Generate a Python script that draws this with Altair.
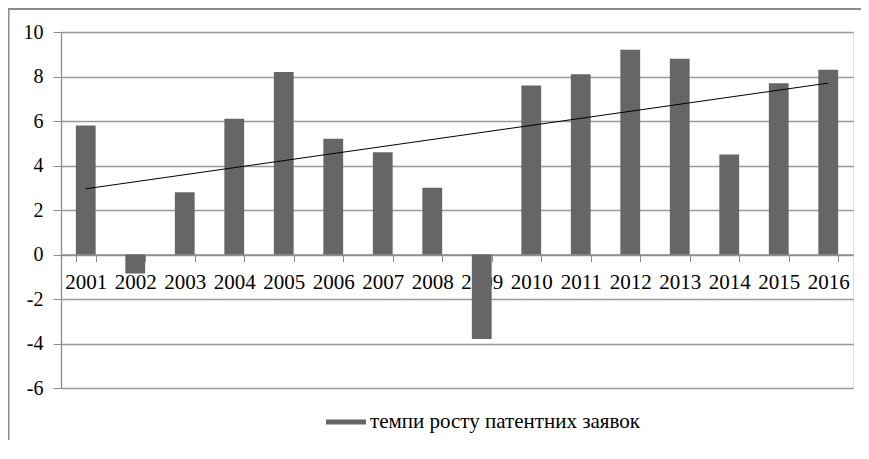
import altair as alt
import pandas as pd

years = [2001, 2002, 2003, 2004, 2005, 2006, 2007, 2008,
         2009, 2010, 2011, 2012, 2013, 2014, 2015, 2016]
values = [5.8, -0.85, 2.8, 6.1, 8.2, 5.2, 4.6, 3.0,
          -3.8, 7.6, 8.1, 9.2, 8.8, 4.5, 7.7, 8.3]
series_name = "темпи росту патентних заявок"
y_ticks = [-6, -4, -2, 0, 2, 4, 6, 8, 10]

df = pd.DataFrame({"year": years, "value": values, "series": [series_name] * len(years)})

W, H = 792, 356
FONT = "Liberation Serif"
y_scale = alt.Scale(domain=[-6, 10], nice=False, zero=False)
x_scale = alt.Scale(paddingInner=0.6, paddingOuter=0.3)
zero_px = H * 10 / 16.0

base = alt.Chart(df)

bars = base.mark_bar(color="#666666").encode(
    x=alt.X("year:O", scale=x_scale, title=None,
            axis=alt.Axis(labelAngle=0, offset=-(H - zero_px), tickBand="extent",
                          domainColor="#8c8c8c", tickColor="#8c8c8c", tickSize=7,
                          labelPadding=10, labelFont=FONT, labelFontSize=21,
                          labelColor="#000000", grid=False, domainWidth=1.3)),
    y=alt.Y("value:Q", scale=y_scale, title=None,
            axis=alt.Axis(values=y_ticks, domainColor="#8c8c8c", tickColor="#8c8c8c",
                          tickSize=8, labelPadding=10, labelFont=FONT, labelFontSize=20,
                          labelExpr="datum.value < 0 ? '-' + abs(datum.value) : '' + datum.value",
                          labelColor="#000000", gridColor="#999999", gridWidth=1.3,
                          domainWidth=1.3)),
    color=alt.Color("series:N", scale=alt.Scale(range=["#666666"]), title=None,
                    legend=alt.Legend(orient="none", legendX=265, legendY=370,
                                      symbolType="M-1,-0.125H1V0.125H-1Z",
                                      symbolSize=1600, symbolStrokeWidth=0,
                                      symbolOpacity=1, labelFont=FONT, labelFontSize=21,
                                      labelLimit=500,
                                      labelColor="#000000", padding=0, labelOffset=4)),
)

trend = base.transform_regression("year", "value", method="linear").mark_line(
    color="#000000", strokeWidth=1
).encode(
    x=alt.X("year:O", scale=x_scale),
    y=alt.Y("value:Q", scale=y_scale),
)

frame_top = alt.Chart(pd.DataFrame({"k": [0]})).mark_rule(color="#8c8c8c", strokeWidth=2).encode(
    x=alt.value(-53), x2=alt.value(W + 8), y=alt.value(-23)
)
frame_left = alt.Chart(pd.DataFrame({"k": [0]})).mark_rule(color="#8c8c8c", strokeWidth=2).encode(
    x=alt.value(-52.5), y=alt.value(-24), y2=alt.value(H + 52)
)

chart = alt.layer(bars, trend, frame_top, frame_left).properties(
    width=W, height=H,
    padding={"left": 53, "top": 24, "right": 8, "bottom": 52},
    autosize=alt.AutoSizeParams(type="none"),
).configure_view(strokeWidth=0, stroke="transparent").configure(
    background="#ffffff", font=FONT
)

chart.save("out.html", embed_options={"renderer": "svg", "actions": False})
